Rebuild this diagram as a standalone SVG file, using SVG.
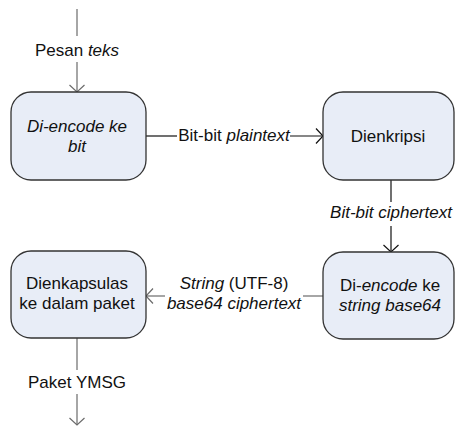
<svg xmlns="http://www.w3.org/2000/svg" width="455" height="426" viewBox="0 0 455 426">
<defs>
<style>
.box{fill:#e8edf7;stroke:#333;stroke-width:1.3}
.t{font-family:"Liberation Sans",Arial,sans-serif;font-size:17px;fill:#111;text-anchor:middle}
.i{font-style:italic}
.c{fill:none;stroke-width:1.2}
.g{stroke:#6b6b6b}
.k{stroke:#111}
</style>
<marker id="ag" markerUnits="userSpaceOnUse" markerWidth="20" markerHeight="20" refX="0" refY="0" viewBox="-10 -10 20 20" orient="auto" overflow="visible">
<polyline points="-7,-7.5 0,0 -7,7.5" fill="none" stroke="#6b6b6b" stroke-width="1.2"/>
</marker>
<marker id="ak" markerUnits="userSpaceOnUse" markerWidth="20" markerHeight="20" refX="0" refY="0" viewBox="-10 -10 20 20" orient="auto" overflow="visible">
<polyline points="-7,-7.5 0,0 -7,7.5" fill="none" stroke="#111" stroke-width="1.2"/>
</marker>
</defs>
<rect width="455" height="426" fill="#fff"/>
<g id="connectors">
<line class="c g" x1="77" y1="9" x2="77" y2="36"/>
<line class="c g" x1="77" y1="62" x2="77" y2="92" marker-end="url(#ag)"/>
<text class="t" x="77" y="56">Pesan <tspan class="i">teks</tspan></text>
<line class="c k" x1="146" y1="136" x2="177" y2="136"/>
<line class="c k" x1="290" y1="136" x2="323" y2="136" marker-end="url(#ak)"/>
<text class="t" x="234" y="141">Bit-bit <tspan class="i">plaintext</tspan></text>
<line class="c k" x1="391" y1="180" x2="391" y2="202"/>
<line class="c k" x1="391" y1="226" x2="391" y2="252" marker-end="url(#ak)"/>
<text class="t i" x="391" y="218">Bit-bit ciphertext</text>
<line class="c g" x1="323" y1="296" x2="303" y2="296"/>
<line class="c g" x1="165" y1="296" x2="146" y2="296" marker-end="url(#ag)"/>
<text class="t" x="234" y="289"><tspan class="i">String</tspan> (UTF-8)</text>
<text class="t i" x="234" y="309">base64 ciphertext</text>
<line class="c g" x1="77" y1="338" x2="77" y2="370"/>
<line class="c g" x1="77" y1="394" x2="77" y2="425" marker-end="url(#ag)"/>
<text class="t" x="77" y="388">Paket YMSG</text>
</g>
<g id="n1">
<rect class="box" x="11" y="92" width="135" height="88" rx="20"/>
<text class="t i" x="77" y="132">Di-encode ke</text>
<text class="t i" x="77" y="152">bit</text>
</g>
<g id="n2">
<rect class="box" x="323" y="92" width="131" height="88" rx="20"/>
<text class="t" x="388" y="142">Dienkripsi</text>
</g>
<g id="n3">
<rect class="box" x="323" y="252" width="131" height="87" rx="20"/>
<text class="t" x="390" y="291">Di-<tspan class="i">encode</tspan> ke</text>
<text class="t i" x="390" y="311">string base64</text>
</g>
<g id="n4">
<rect class="box" x="11" y="251" width="135" height="87" rx="20"/>
<text class="t" x="77" y="289">Dienkapsulas</text>
<text class="t" x="77" y="309">ke dalam paket</text>
</g>
</svg>
